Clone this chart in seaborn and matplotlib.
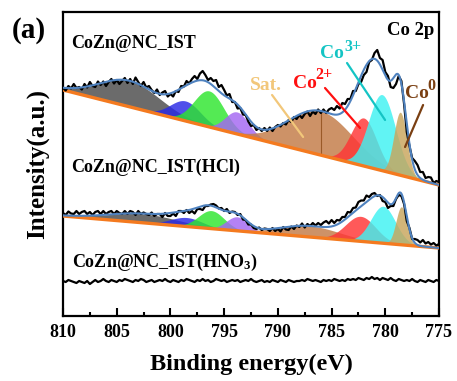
import numpy as np
import pandas as pd
import matplotlib
matplotlib.use("Agg")
import matplotlib.pyplot as plt
from matplotlib.ticker import MultipleLocator
import seaborn as sns

# ---------------- data ----------------
e_start, e_end = 810.0, 775.0          # binding energy range (eV), 0.25 eV steps
n_points = 141

# raw spectra (arbitrary intensity units), one row per eV: E, E-0.25, E-0.5, E-0.75
raw_ist = [
    228, 225.5, 230, 227.5,   232, 228, 229, 226.5,   232, 228.5, 234, 230,
    229, 234.5, 231, 234.5,   230, 234, 237, 232.5,   236, 232, 235, 238,
    233, 237, 232, 238.5,     234, 230, 234, 228.5,   230, 226, 223, 226.5,
    221, 223.5, 225, 219.5,   222, 219.5, 225, 224,   230, 229.5, 235, 232.5,
    237, 240, 237, 242.5,     245, 241, 236, 238,     235, 236, 229, 231,
    226, 220.5, 222, 214,     214, 207.5, 208, 201.5, 201, 194.5, 190, 191,
    186, 188, 185, 188,       185, 188.5, 185, 189,   191, 189.5, 193, 191.5,
    196, 194, 199, 197,       201, 198, 202, 204.5,   200, 204.5, 202, 206.5,
    203, 206.5, 203, 206.5,   208, 206, 210, 207.5,   213, 212, 217, 217,
    225, 225, 232, 234,       241, 244, 254, 256,     263, 266, 258, 256,
    244, 240, 229, 228,       232, 240, 235, 212,     184, 170, 158, 155,
    151, 144, 144, 138,       139, 138.5, 133, 135,   134,
]
raw_hcl = [
    103, 101, 104.5, 102.5,   102, 105, 102, 104,     105, 102, 104, 101,
    104, 105, 102, 105,       102, 104, 105, 102,     105, 103, 102, 105,
    102, 105, 104, 101,       105, 102, 103.5, 102,   101, 103.5, 100, 102,
    102, 99, 103, 100,        100, 102.5, 100, 105,   105, 103, 106, 103,
    105, 102.5, 107, 107,     106, 110, 110, 111.5,   112, 110.5, 107.5, 108,
    105, 107, 103, 104.5,     104, 101, 102, 96.5,    96, 91.5, 91.5, 88,
    87, 88.5, 86, 87.5,       87, 85, 88, 85,         87, 84.5, 89, 86.5,
    86, 89.5, 87, 90.5,       89, 92.5, 88.5, 92,     90, 93, 90.5, 93,
    91, 93.5, 95, 92.5,       96, 93, 96, 95.5,       99, 99, 104, 103.5,
    108, 108.5, 114, 115.5,   115.5, 120.5, 119, 122, 123, 120, 121, 115,
    114, 108, 110, 110,       117, 121, 120, 112,     95, 88, 77, 77,
    76, 73.5, 76, 72.5,       74, 71.5, 73, 70.5,     72,
]
raw_hno3 = [
    35, 34, 36, 35,   34, 33, 35, 34,   33, 35, 32, 34,   36, 34, 35, 37,
    35, 34, 36, 35,   34, 36, 35, 37,   36, 35, 34, 36,   35, 37, 36, 34,
    35, 36, 34, 35,   36, 35, 37, 35,   34, 36, 35, 34,   36, 35, 37, 36,
    35, 34, 36, 35,   37, 35, 36, 34,   35, 37, 36, 35,   36, 34, 35, 36,
    35, 36, 34, 35,   36, 35, 37, 35,   34, 35, 36, 34,   35, 34, 36, 35,
    34, 36, 35, 34,   36, 35, 34, 35,   35, 36, 35, 37,   36, 35, 36, 35,
    34, 36, 35, 36,   35, 37, 36, 35,   36, 35, 37, 36,   37, 36, 38, 37,
    36, 38, 37, 39,   37, 38, 36, 38,   37, 36, 38, 36,   35, 37, 36, 35,
    36, 35, 37, 35,   34, 36, 35, 34,   36, 35, 34, 36,   35,
]

# linear backgrounds (value at 810 eV, value at 775 eV)
bg_ist = [226, 131]
bg_hcl = [100, 68]

# fitted components: gray, blue, green, purple, satellite, Co2+, Co3+, Co0
comp_names = ["c1", "c2", "c3", "c4", "Sat.", "Co2+", "Co3+", "Co0"]
ist_centers = [803.8, 798.6, 796.4, 793.8, 786.0, 782.0, 780.3, 778.6]
ist_heights = [26, 20, 36, 22, 44, 48, 76, 63]
ist_sigmas = [2.8, 1.4, 1.4, 1.1, 3.0, 1.2, 1.25, 0.6]

hcl_centers = [802.5, 798.5, 796.2, 793.8, 787.0, 782.3, 780.2, 778.5]
hcl_heights = [9, 9, 18, 14, 11, 25, 37, 38]
hcl_sigmas = [3.2, 1.5, 1.2, 1.0, 2.8, 1.4, 1.15, 0.5]

comp_colors = ["#4a4a4a", "#2a2ae6", "#2ee62e", "#a466f2",
               "#c27a45", "#ff3535", "#3ef2f2", "#c9a55c"]

sample_labels = ["CoZn@NC_IST", "CoZn@NC_IST(HCl)", r"CoZn@NC_IST(HNO$_\mathbf{3}$)"]

# ---------------- style ----------------
sns.set_theme(style="ticks")
plt.rcParams["font.family"] = ["Liberation Serif", "DejaVu Serif"]
plt.rcParams["font.weight"] = "bold"
plt.rcParams["axes.labelweight"] = "bold"
plt.rcParams["text.color"] = "black"
plt.rcParams["axes.labelcolor"] = "black"
plt.rcParams["xtick.color"] = "black"
plt.rcParams["ytick.color"] = "black"
plt.rcParams["axes.edgecolor"] = "black"
plt.rcParams["mathtext.fontset"] = "custom"
plt.rcParams["mathtext.rm"] = "Liberation Serif:bold"
plt.rcParams["mathtext.bf"] = "Liberation Serif:bold"
plt.rcParams["mathtext.it"] = "Liberation Serif:italic:bold"

fig = plt.figure(figsize=(4.57, 3.81), dpi=100)
ax = fig.add_axes([0.1379, 0.1706, 0.8227, 0.7979])

energy = np.linspace(e_start, e_end, n_points)
fine = np.linspace(e_start, e_end, 1401)


def background(e, bg):
    return bg[0] + (bg[1] - bg[0]) * (e_start - e) / (e_start - e_end)


def gauss(e, c, h, s):
    return h * np.exp(-((e - c) ** 2) / (2 * s ** 2))


def draw_fit(centers, heights, sigmas, bg, sat_line=False):
    base = background(fine, bg)
    total = np.zeros_like(fine)
    for c, h, s, col in zip(centers, heights, sigmas, comp_colors):
        g = gauss(fine, c, h, s)
        total += g
        ax.fill_between(fine, base, base + g, color=col, alpha=0.82, lw=0, zorder=2)
    if sat_line:
        c = centers[4]
        b = background(c, bg)
        ax.plot([c, c], [b, b + heights[4]], color="#9a5a28", lw=0.8, zorder=2.5)
    df_bg = pd.DataFrame({"E": [e_start, e_end], "I": bg})
    sns.lineplot(data=df_bg, x="E", y="I", ax=ax, color="#f47a1f", lw=2.4,
                 estimator=None, sort=False, zorder=3)
    return pd.DataFrame({"E": fine, "I": base + total})


env_ist = draw_fit(ist_centers, ist_heights, ist_sigmas, bg_ist, sat_line=True)
env_hcl = draw_fit(hcl_centers, hcl_heights, hcl_sigmas, bg_hcl)

for raw in (raw_ist, raw_hcl, raw_hno3):
    df = pd.DataFrame({"E": energy, "I": raw})
    sns.lineplot(data=df, x="E", y="I", ax=ax, color="black", lw=1.6,
                 estimator=None, sort=False, zorder=4)
for env in (env_ist, env_hcl):
    sns.lineplot(data=env, x="E", y="I", ax=ax, color="#4f82bf", lw=1.5,
                 estimator=None, sort=False, zorder=5)

ax.set_xlim(e_start, e_end)
ax.set_ylim(0, 304)
ax.set_yticks([])
ax.xaxis.set_major_locator(MultipleLocator(5))
ax.xaxis.set_minor_locator(MultipleLocator(2.5))
ax.tick_params(axis="x", which="major", direction="in", length=6, width=1.5,
               labelsize=13, pad=6, top=False)
ax.tick_params(axis="x", which="minor", direction="in", length=3, width=1.5, top=False)
for sp in ax.spines.values():
    sp.set_linewidth(1.6)
    sp.set_color("black")
    sp.set_visible(True)

ax.set_xlabel("Binding energy(eV)", fontsize=17.5, fontweight="bold", labelpad=9)
ax.set_ylabel("Intensity(a.u.)", fontsize=18, fontweight="bold", labelpad=10)

# sample labels
for lab, yv in zip(sample_labels, [273, 149, 54]):
    ax.text(809.2, yv, lab, fontsize=13, fontweight="bold", ha="left", va="center")

ax.text(775.45, 286, "Co 2p", fontsize=13.5, fontweight="bold", ha="right", va="center")

# peak annotations (main text, superscript drawn as its own text)
ax.text(792.6, 226, "Sat.", fontsize=14, fontweight="bold", color="#f2c77a",
        ha="left", va="baseline")
ax.plot([790.54, 787.65], [221, 179], color="#f2c77a", lw=1.6, zorder=6)

peak_tags = [
    # (x_co, y_base, x_sup, y_sup, sup, color, line)
    (788.6, 228, 786.5, 237, "2+", "#ff1010", ([785.61, 782.35], [228, 188])),
    (786.1, 258, 783.8, 265, "3+", "#14c4c4", ([783.56, 780.02], [253, 196])),
    (778.2, 218, 776.1, 226, "0", "#7a3f12", ([776.48, 778.16], [211, 169])),
]
for xc, yb, xs, ys, sup, col, (lx, ly) in peak_tags:
    ax.text(xc, yb, "Co", fontsize=14, fontweight="bold", color=col,
            ha="left", va="baseline")
    ax.text(xs, ys, sup, fontsize=11.5, fontweight="bold", color=col,
            ha="left", va="baseline")
    ax.plot(lx, ly, color=col, lw=1.6, zorder=6)

fig.text(0.063, 0.921, "(a)", fontsize=21, fontweight="bold", ha="center", va="center")

fig.savefig("out.png", dpi=100)
